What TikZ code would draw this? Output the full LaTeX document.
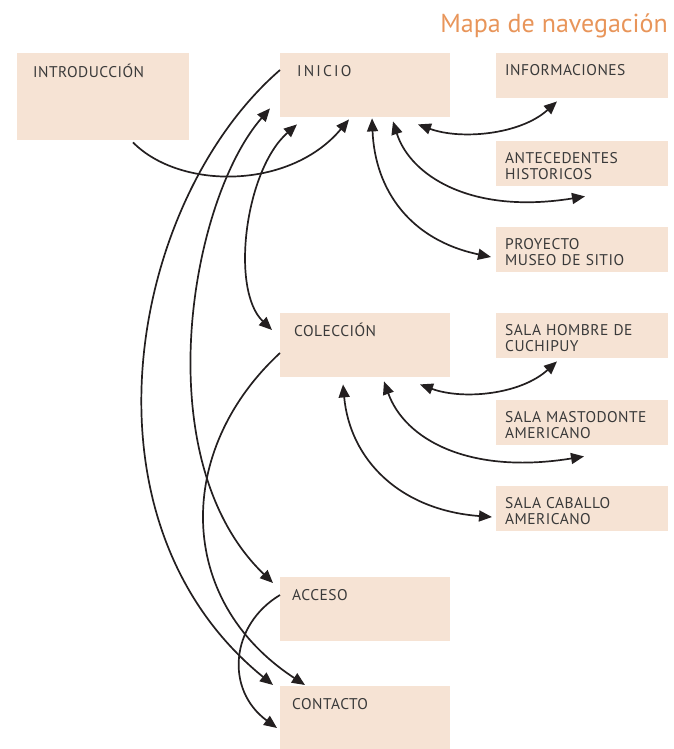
\documentclass[tikz,border=0pt]{standalone}
\usepackage{fontspec}
\setmainfont{PT Sans}
\usetikzlibrary{arrows.meta,calc}

\definecolor{peach}{HTML}{F6E3D4}
\definecolor{titleorange}{HTML}{E8955A}
\definecolor{ink}{HTML}{231F20}
\definecolor{boxtext}{HTML}{3A3A3A}

\tikzset{
  box/.style={fill=peach, anchor=north west, align=left, inner ysep=0pt, text=boxtext,
    font=\fontsize{15.5}{16.5}\selectfont\addfontfeature{LetterSpace=3}},
  page/.style={box, inner xsep=12pt, text width=146pt, text height=23pt, text depth=41pt},
  sub/.style={box, inner xsep=9pt, text width=154pt, text height=22pt, text depth=23pt},
  link/.style={draw=ink, line width=1.7pt, -{Triangle[length=13pt,width=11pt]}},
  twoway/.style={link, {Triangle[length=13pt,width=11pt]}-{Triangle[length=13pt,width=11pt]}},
}

\begin{document}
\begin{tikzpicture}[x=1pt,y=-1pt]
  \useasboundingbox (0,0) rectangle (673,749);

  \node[text=titleorange, anchor=base east, inner sep=0pt, font=\fontsize{26}{28}\selectfont] (title) at (668,33) {Mapa de navegación};

  \node[box, inner xsep=16pt, text width=140pt, text height=24pt, text depth=63pt] (intro) at (17,53) {INTRODUCCIÓN};
  \node[page, inner xsep=17pt, text width=136pt] (inicio) at (280,53) {\addfontfeature{LetterSpace=14}INICIO};
  \node[page, inner xsep=14pt, text width=142pt] (coleccion) at (280,313) {COLECCIÓN};
  \node[page] (acceso) at (280,577) {ACCESO};
  \node[page, text depth=40pt] (contacto) at (280,686) {CONTACTO};

  \node[sub] (info) at (496,53) {INFORMACIONES};
  \node[sub] (antec) at (496,141) {ANTECEDENTES\\HISTORICOS};
  \node[sub] (proy) at (496,227) {PROYECTO\\MUSEO DE SITIO};
  \node[sub] (hombre) at (496,313) {SALA HOMBRE DE\\CUCHIPUY};
  \node[sub] (masto) at (496,400) {SALA MASTODONTE\\AMERICANO};
  \node[sub] (caballo) at (496,486) {SALA CABALLO\\AMERICANO};

  % left side
  \draw[link] ($(intro.south west)+(116,2)$) .. controls (180,190) and (290,190) .. ($(inicio.south west)+(69,2)$);
  \draw[link] ($(inicio.north west)+(0,17)$) .. controls (130,200) and (70,520) .. ($(contacto.north west)+(-7,-1)$);
  \draw[twoway] ($(inicio.south west)+(-10,-9)$) .. controls (190,200) and (145,460) .. ($(acceso.north west)+(-7,6)$);
  \draw[twoway] ($(inicio.south west)+(17,7)$) .. controls (245,170) and (230,290) .. ($(coleccion.north west)+(-8,17)$);
  \draw[link] ($(coleccion.north west)+(0,40)$) .. controls (175,450) and (175,600) .. ($(contacto.north west)+(25,-1)$);
  \draw[link] ($(acceso.north west)+(0,18)$) .. controls (230,625) and (225,690) .. ($(contacto.north west)+(-3,42)$);

  % right side
  \draw[twoway] ($(inicio.south west)+(138,7)$) .. controls (460,140) and (520,135) .. ($(info.south west)+(61,3)$);
  \draw[twoway] ($(inicio.south west)+(113,4)$) .. controls (410,175) and (470,215) .. ($(antec.south west)+(89,10)$);
  \draw[twoway] ($(inicio.south west)+(92,1)$) .. controls (375,190) and (410,240) .. ($(proy.north west)+(-5,30)$);
  \draw[twoway] ($(coleccion.south west)+(140,7)$) .. controls (462,400) and (520,395) .. ($(hombre.south west)+(61,3)$);
  \draw[twoway] ($(coleccion.south west)+(104,4)$) .. controls (405,440) and (470,475) .. ($(masto.south west)+(88,11)$);
  \draw[twoway] ($(coleccion.south west)+(63,7)$) .. controls (350,460) and (400,510) .. ($(caballo.north west)+(-4,31)$);
\end{tikzpicture}
\end{document}
